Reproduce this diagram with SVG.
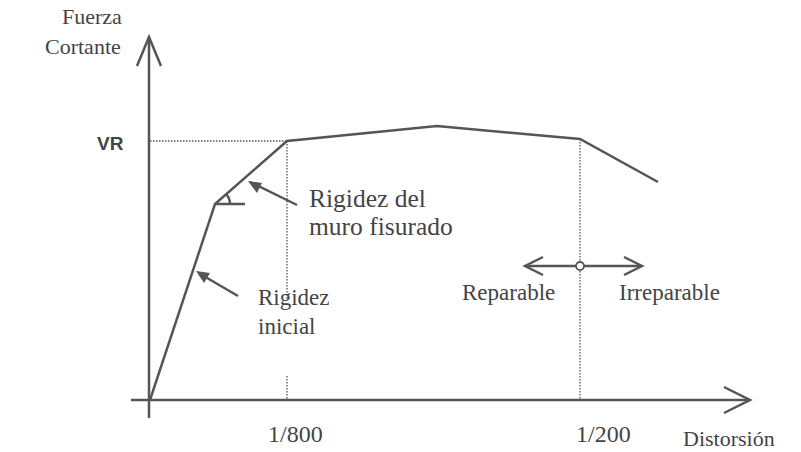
<svg xmlns="http://www.w3.org/2000/svg" width="801" height="452" viewBox="0 0 801 452">
<style>
.t{font-family:"Liberation Serif","Times New Roman",serif;fill:#444}
.ax{stroke:#555;stroke-width:2.5;fill:none}
.cv{stroke:#555;stroke-width:2.5;fill:none;stroke-linejoin:miter}
.dot{stroke:#555;stroke-width:1.3;stroke-dasharray:1.5 1.5;fill:none}
.ar{stroke:#555;stroke-width:2.5;fill:none}
</style>
<rect width="801" height="452" fill="#fff"/>
<g id="axes">
<line class="ax" x1="149" y1="37" x2="149" y2="418"/>
<polyline class="ax" points="137,66 149,37 161,66"/>
<line class="ax" x1="131" y1="400" x2="749" y2="400"/>
<polyline class="ax" points="724,387 750,400 724,413"/>
</g>
<g id="guides">
<line class="dot" x1="150" y1="141" x2="287" y2="141"/>
<line class="dot" x1="287" y1="141" x2="287" y2="300"/>
<line class="dot" x1="287" y1="376" x2="287" y2="400"/>
<line class="dot" x1="580" y1="139" x2="580" y2="400"/>
</g>
<g id="curve">
<polyline class="cv" points="150,400 215,204 287,141 437,126 580,139 658,182"/>
<line class="cv" x1="215" y1="204" x2="245" y2="204" stroke-width="2"/>
<path class="cv" stroke-width="1.8" d="M230,204 A15,15 0 0 0 226.3,194.2"/>
</g>
<g id="connectors">
<line class="ar" x1="297" y1="205" x2="250" y2="182" stroke-width="2.5"/>
<path d="M248,181 L262,183 L257,193 z" fill="#555"/>
<line class="ar" x1="238" y1="296" x2="202" y2="275"/>
<path d="M196,271 L210,273 L204,283 z" fill="#555"/>
<line class="ar" x1="527" y1="266" x2="576" y2="266" stroke-width="2"/>
<line class="ar" x1="584" y1="266" x2="640" y2="266" stroke-width="2"/>
<polyline class="ar" stroke-width="2" points="543,257 525,266 543,275"/>
<polyline class="ar" stroke-width="2" points="624,257 642,266 624,275"/>
<circle cx="580" cy="266" r="4" fill="#fff" stroke="#555" stroke-width="1.8"/>
</g>
<g id="labels">
<text class="t" x="62" y="24" font-size="22">Fuerza</text>
<text class="t" x="45" y="54" font-size="22">Cortante</text>
<text x="97" y="150" font-family="Liberation Sans,Arial,sans-serif" font-weight="bold" font-size="19" fill="#444">VR</text>
<text class="t" x="309" y="207" font-size="25.5">Rigidez del</text>
<text class="t" x="309" y="235" font-size="25.5">muro fisurado</text>
<text class="t" x="258" y="305" font-size="23">Rigidez</text>
<text class="t" x="258" y="334" font-size="23">inicial</text>
<text class="t" x="268" y="442" font-size="24">1/800</text>
<text class="t" x="576" y="442" font-size="24">1/200</text>
<text class="t" x="683" y="446" font-size="22">Distorsión</text>
<text class="t" x="462" y="300" font-size="23">Reparable</text>
<text class="t" x="619" y="300" font-size="23">Irreparable</text>
</g>
</svg>
